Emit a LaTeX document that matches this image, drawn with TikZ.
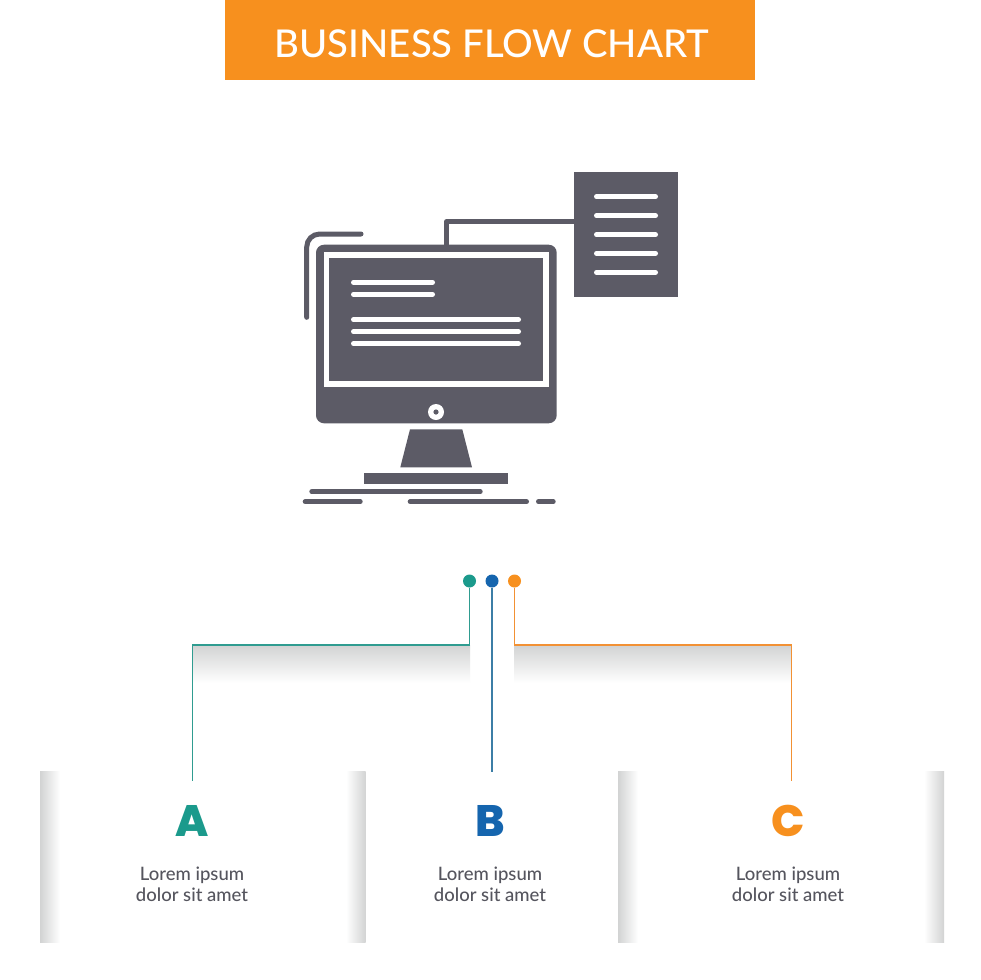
\documentclass[tikz,border=0pt]{standalone}
\usepackage{fontspec}
\setmainfont{Lato Medium}
\newfontfamily\headfont{Lato Medium}
\newfontfamily\letterfont{Poppins ExtraBold}
\definecolor{ink}{HTML}{5C5B66}
\definecolor{teal1}{HTML}{1B9A8C}
\definecolor{blue1}{HTML}{1565AE}
\definecolor{orange1}{HTML}{F7901E}
\definecolor{lineTeal}{HTML}{2F9C90}
\definecolor{lineBlue}{HTML}{3C7EA6}
\definecolor{lineOrange}{HTML}{F29134}
\definecolor{bodytext}{HTML}{55555E}
\definecolor{shadow}{HTML}{D2D3D3}
\tikzset{
  inkline/.style={draw=ink,line width=5pt,line cap=round},
  whiteline/.style={draw=white,line width=5pt,line cap=round},
  dotnode/.style={circle,inner sep=0pt,minimum size=13pt},
  wire/.style={line width=1.8pt},
  bigletter/.style={font=\letterfont\fontsize{44}{44}\selectfont,inner sep=0pt},
  bodylabel/.style={font=\fontsize{18.5}{21}\selectfont,text=bodytext,align=center,inner sep=0pt},
}
\begin{document}
\begin{tikzpicture}[x=1pt,y=-1pt]
\useasboundingbox (0,0) rectangle (980,980);
\fill[white] (0,0) rectangle (980,980);
% header
\fill[orange1] (225,0) rectangle (755,80);
\node[font=\headfont\fontsize{38.3}{38.3}\selectfont,text=white,inner sep=0pt] (title) at (492,44) {BUSINESS FLOW CHART};
% document
\fill[ink] (574.3,171.7) rectangle (677.7,297.3);
\foreach \yy in {196.7,215.7,234.7,253.3,272.3}{
  \draw[whiteline] (596.5,\yy) -- (655.5,\yy);
}
% connector from monitor to document
\draw[ink,line width=4.5pt,line join=round] (446.7,246) -- (446.7,221.3) -- (575,221.3);
% corner arc
\draw[inkline,rounded corners=13pt] (306.7,317.3) -- (306.7,234) -- (361,234);
% monitor
\fill[ink,rounded corners=8pt] (316,244.7) rectangle (556.7,423.3);
\fill[white] (324,252.3) rectangle (548.7,386.7);
\fill[ink] (329.3,258.3) rectangle (542.7,381);
\foreach \yy in {282.3,294.3}{
  \draw[whiteline] (353.5,\yy) -- (432.5,\yy);
}
\foreach \yy in {319.7,331.7,343.7}{
  \draw[whiteline] (353.5,\yy) -- (518.5,\yy);
}
\fill[white] (436,412) circle (8);
\fill[ink] (436,412) circle (2.6);
% stand
\fill[ink] (410,429.3) -- (462.3,429.3) -- (472,467.3) -- (400.3,467.3) -- cycle;
\fill[ink] (364.3,473.3) rectangle (508,484);
\draw[inkline] (311.8,491.7) -- (480.2,491.7);
\draw[inkline] (305.2,501.7) -- (360.2,501.7);
\draw[inkline] (410.2,501.7) -- (526.5,501.7);
\draw[inkline] (538.5,501.7) -- (553.2,501.7);
% shadows under wires
\shade[top color=shadow,bottom color=white] (193,645) rectangle (470,683);
\shade[top color=shadow,bottom color=white] (514,645) rectangle (791,683);
% panel strips
\shade[left color=shadow,right color=white] (40,771.7) rectangle (60,942.3);
\shade[left color=white,right color=shadow] (346,771.7) rectangle (365.7,942.3);
\shade[left color=shadow,right color=white] (618,771.7) rectangle (638,942.3);
\shade[left color=white,right color=shadow] (924,771.7) rectangle (944,942.3);
% dots
\node[dotnode,fill=teal1] (dotA) at (469.5,581) {};
\node[dotnode,fill=blue1] (dotB) at (492,581) {};
\node[dotnode,fill=orange1] (dotC) at (514.5,581) {};
\coordinate (endA) at (192.5,781);
\coordinate (endB) at (492,771.5);
\coordinate (endC) at (791.5,781);
\draw[wire,lineTeal] (dotA.south) -- (469.5,645) -- (192.5,645) -- (endA);
\draw[wire,lineBlue] (dotB.south) -- (endB);
\draw[wire,lineOrange] (dotC.south) -- (514.5,645) -- (791.5,645) -- (endC);
% letters
\node[bigletter,text=teal1] (letterA) at (192,821) {A};
\node[bigletter,text=blue1] (letterB) at (490.5,821) {B};
\node[bigletter,text=orange1] (letterC) at (788.5,821) {C};
% labels
\node[bodylabel] (textA) at (192,884) {Lorem ipsum\\dolor sit amet};
\node[bodylabel] (textB) at (490,884) {Lorem ipsum\\dolor sit amet};
\node[bodylabel] (textC) at (788,884) {Lorem ipsum\\dolor sit amet};
\end{tikzpicture}
\end{document}
